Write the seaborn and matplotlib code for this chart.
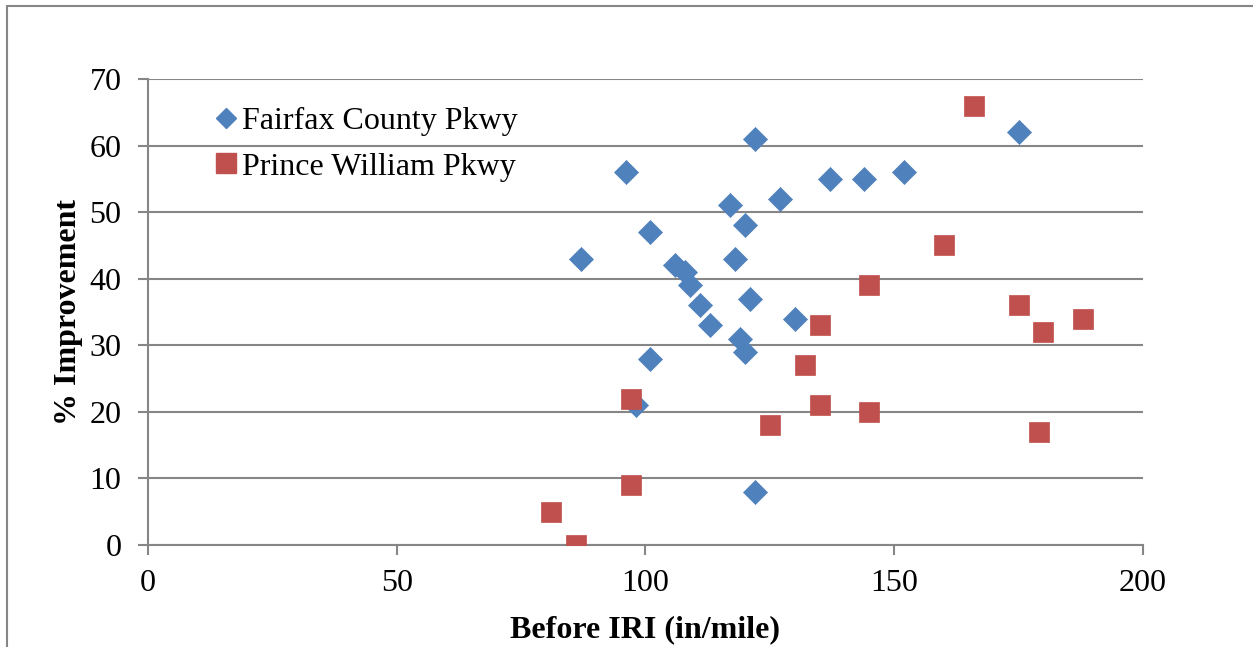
import matplotlib
matplotlib.use("Agg")
import matplotlib.pyplot as plt
from matplotlib.lines import Line2D
import seaborn as sns
import pandas as pd

fairfax_iri = [87, 96, 101, 101, 98, 106, 108, 109, 111, 113, 117, 118, 120, 119,
               120, 121, 122, 122, 127, 130, 137, 144, 152, 175]
fairfax_imp = [43, 56, 47, 28, 21, 42, 41, 39, 36, 33, 51, 43, 48, 31,
               29, 37, 61, 8, 52, 34, 55, 55, 56, 62]

pw_iri = [81, 86, 97, 97, 125, 132, 135, 135, 145, 145, 160, 166, 175, 180, 179, 188]
pw_imp = [5, 0, 22, 9, 18, 27, 33, 21, 39, 20, 45, 66, 36, 32, 17, 34]

series_names = ["Fairfax County Pkwy", "Prince William Pkwy"]
x_ticks = [0, 50, 100, 150, 200]
y_ticks = [0, 10, 20, 30, 40, 50, 60, 70]

df = pd.DataFrame({
    "iri": fairfax_iri + pw_iri,
    "imp": fairfax_imp + pw_imp,
    "series": [series_names[0]] * len(fairfax_iri) + [series_names[1]] * len(pw_iri),
})

sns.set_theme(style="white")
plt.rcParams["font.family"] = ["Liberation Serif", "DejaVu Serif"]
plt.rcParams["text.color"] = "black"
plt.rcParams["axes.labelcolor"] = "black"

FS = 23
W, H = 1253, 647
fig = plt.figure(figsize=(W / 100, H / 100), dpi=100)
ax = fig.add_axes([148 / W, 1 - 545 / H, (1143 - 148) / W, (545 - 79) / H])

colors = {series_names[0]: "#4F81BD", series_names[1]: "#C0504D"}
markers = {series_names[0]: "D", series_names[1]: "s"}
sizes = {series_names[0]: 150, series_names[1]: 200}

for name in series_names:
    sub = df[df["series"] == name]
    sns.scatterplot(data=sub, x="iri", y="imp", ax=ax, color=colors[name],
                    marker=markers[name], s=sizes[name], linewidth=0.5,
                    edgecolor=colors[name], zorder=3, legend=False)

ax.set_xlim(0, 200)
ax.set_ylim(0, 70)
ax.set_xticks(x_ticks)
ax.set_yticks(y_ticks)
ax.set_xticklabels([str(v) for v in x_ticks], fontsize=FS)
ax.set_yticklabels([str(v) for v in y_ticks], fontsize=FS)

ax.yaxis.grid(True, color="#868686", linewidth=1.5)
ax.xaxis.grid(False)
ax.set_axisbelow(True)
for s in ["top", "right"]:
    ax.spines[s].set_visible(False)
for s in ["left", "bottom"]:
    ax.spines[s].set_visible(True)
    ax.spines[s].set_color("#868686")
    ax.spines[s].set_linewidth(1.5)
ax.tick_params(axis="both", direction="out", length=7, width=1.5, color="#868686",
               labelcolor="black", left=True, bottom=True)
ax.tick_params(axis="x", pad=10)
ax.tick_params(axis="y", pad=12)

ax.set_xlabel("Before IRI (in/mile)", fontsize=FS, fontweight="bold", labelpad=13)
ax.set_ylabel("% Improvement", fontsize=FS, fontweight="bold", labelpad=5)

handles = [
    Line2D([], [], linestyle="none", marker="D", color=colors[series_names[0]],
           markersize=10, label=series_names[0]),
    Line2D([], [], linestyle="none", marker="s", color=colors[series_names[1]],
           markersize=14, label=series_names[1]),
]
ax.legend(handles=handles, loc="upper left", bbox_to_anchor=(0.066, 0.94),
          frameon=False, fontsize=FS, handlelength=0.8, handletextpad=0.1,
          labelspacing=0.5, borderaxespad=0, borderpad=0)

# outer chart frame (top and left edges visible)
fig.add_artist(Line2D([6.5 / W, 6.5 / W], [0, 1 - 6 / H], transform=fig.transFigure,
                      color="#868686", linewidth=1.5))
fig.add_artist(Line2D([6.5 / W, 1], [1 - 6 / H, 1 - 6 / H], transform=fig.transFigure,
                      color="#868686", linewidth=1.5))

fig.savefig("out.png", dpi=100, facecolor="white")
